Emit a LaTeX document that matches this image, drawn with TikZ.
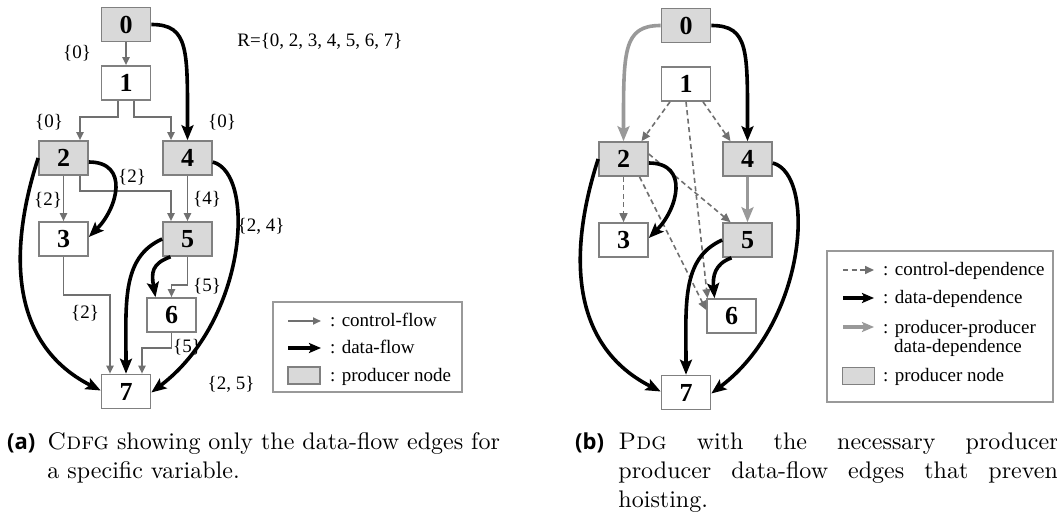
\documentclass[tikz,border=0pt]{standalone}
\usepackage{fontspec}
\newfontfamily\timesfont{Liberation Serif}
\newfontfamily\sublabelfont{Open Sans}
\usetikzlibrary{arrows.meta}
\definecolor{cgray}{HTML}{707070}
\definecolor{boxgray}{HTML}{808080}
\definecolor{prodfill}{HTML}{D9D9D9}
\definecolor{ppgray}{HTML}{999999}
\definecolor{dgray}{HTML}{707070}
\definecolor{framegray}{HTML}{999999}
\newcommand\numfont{\timesfont\bfseries\fontsize{26}{26}\selectfont}
\newcommand\lblfont{\timesfont\fontsize{19}{21}\selectfont}
\newcommand\capfont{\fontsize{10}{12}\selectfont}
\begin{document}
\begin{tikzpicture}[x=1pt,y=1pt,
  box/.style={draw=boxgray, line width=1.6pt, minimum width=49pt, minimum height=34pt, inner sep=0pt, font=\numfont},
  prod/.style={box, fill=prodfill},
  plain/.style={box, fill=white},
  cflow/.style={draw=cgray, line width=1.8pt, -{Triangle[length=8pt,width=7pt]}},
  dflow/.style={draw=black, line width=3.6pt, -{Stealth[length=15pt,width=12pt,inset=3pt]}},
  ppflow/.style={draw=ppgray, line width=3.6pt, -{Stealth[length=15pt,width=12pt,inset=3pt]}},
  cdep/.style={draw=dgray, line width=1.6pt, dash pattern=on 5pt off 3.5pt, -{Triangle[length=9pt,width=8pt]}},
  lbl/.style={font=\lblfont, inner sep=0pt},
  legframe/.style={draw=framegray, line width=1.2pt, inner sep=0pt},
  legtext/.style={font=\lblfont, inner sep=0pt, anchor=base west},
  legprod/.style={draw=boxgray, fill=prodfill, line width=1.6pt, minimum width=32pt, minimum height=17pt, inner sep=0pt},
  captext/.style={font=\capfont, scale=2.4, inner sep=0pt, anchor=base west},
  caplabel/.style={font=\sublabelfont\bfseries\fontsize{22}{24}\selectfont, inner sep=0pt, anchor=base west},
]
\useasboundingbox (0,0) rectangle (1057,-516);

% ---------------- (a) control/data-flow graph ----------------
\node[prod]  (a0) at (126,-24.5) {0};
\node[plain] (a1) at (126,-83)   {1};
\node[prod]  (a2) at (63.5,-158) {2};
\node[prod]  (a4) at (187.5,-158) {4};
\node[plain] (a3) at (63.5,-239) {3};
\node[prod]  (a5) at (187.5,-239) {5};
\node[plain] (a6) at (171.5,-315) {6};
\node[plain] (a7) at (126,-391.5) {7};

% control-flow edges
\draw[cflow] (a0.south) -- (a1.north);
\draw[cflow] ([xshift=-8pt]a1.south) -- ++(0,-16) -| ([xshift=16.5pt]a2.north);
\draw[cflow] ([xshift=8pt]a1.south) -- ++(0,-16) -| ([xshift=-16.5pt]a4.north);
\draw[cflow] (a2.south) -- (a3.north);
\draw[cflow] ([xshift=16.5pt]a2.south) -- ++(0,-15) -| ([xshift=-16.5pt]a5.north);
\draw[cflow] (a4.south) -- (a5.north);
\draw[cflow] (a3.south) -- ++(0,-38) -| ([xshift=-16pt]a7.north);
\draw[cflow] (a5.south) -- ++(0,-28) -| (a6.north);
\draw[cflow] (a6.south) -- ++(0,-15) -| ([xshift=16pt]a7.north);

% data-flow edges
\draw[dflow] (a0.east) .. controls +(0:38) and +(90:90) .. (a4.north);
\draw[dflow] ([yshift=-4pt]a2.east) to[out=0,in=45,looseness=1.4] ([yshift=2pt]a3.east);
\draw[dflow] (a2.west) .. controls +(252:83) and +(153:110) .. ([yshift=1pt]a7.west);
\draw[dflow] ([yshift=-4pt]a4.east) .. controls +(-15:45) and +(37:120) .. ([yshift=-1pt]a7.east);
\draw[dflow] (a5.west) .. controls +(204:45) and +(90:70) .. (a7.north);
\draw[dflow] ([xshift=-17pt]a5.south) .. controls +(200:20) and +(100:25) .. ([xshift=-16pt]a6.north);

% variable sets
\node[lbl] (la0)  at (77,-53)   {\{0\}};
\node[lbl] (la1)  at (49,-122)  {\{0\}};
\node[lbl] (la2)  at (222,-122) {\{0\}};
\node[lbl] (la3)  at (48,-200)  {\{2\}};
\node[lbl] (la4)  at (132,-177) {\{2\}};
\node[lbl] (la5)  at (207,-199) {\{4\}};
\node[lbl] (la6)  at (261,-226) {\{2, 4\}};
\node[lbl] (la7)  at (207,-286) {\{5\}};
\node[lbl] (la8)  at (85,-313)  {\{2\}};
\node[lbl] (la9)  at (187,-347) {\{5\}};
\node[lbl] (la10) at (231,-384) {\{2, 5\}};
\node[lbl, anchor=base] (rset) at (320,-47) {R=\{0, 2, 3, 4, 5, 6, 7\}};

% legend (a)
\node[legframe, minimum width=189pt, minimum height=90pt] (lega) at (367.5,-347) {};
\coordinate (lga1) at (288,-321); \coordinate (lgb1) at (321,-321);
\coordinate (lga2) at (288,-348); \coordinate (lgb2) at (321,-348);
\draw[cflow] (lga1) -- (lgb1);
\draw[dflow, -{Stealth[length=12pt,width=10pt,inset=2.5pt]}] (lga2) -- (lgb2);
\node[legprod] (lgp) at (304,-375.5) {};
\node[legtext] (lta1) at (330,-326) {: control-flow};
\node[legtext] (lta2) at (330,-353) {: data-flow};
\node[legtext] (lta3) at (330,-381) {: producer node};

% ---------------- (b) program dependence graph ----------------
\begin{scope}[shift={(560,-1)}]
\node[prod]  (b0) at (126,-24.5) {0};
\node[plain] (b1) at (126,-83)   {1};
\node[prod]  (b2) at (63.5,-158) {2};
\node[prod]  (b4) at (187.5,-158) {4};
\node[plain] (b3) at (63.5,-239) {3};
\node[prod]  (b5) at (187.5,-239) {5};
\node[plain] (b6) at (171.5,-315) {6};
\node[plain] (b7) at (126,-391.5) {7};
\end{scope}

% control dependences
\draw[cdep] ([xshift=-16pt]b1.south) -- ([xshift=18pt]b2.north);
\draw[cdep] ([xshift=17pt]b1.south) -- ([xshift=-17pt]b4.north);
\draw[cdep] (b1.south) -- ([xshift=-24pt]b6.north);
\draw[cdep] (b2.south) -- (b3.north);
\draw[cdep] ([yshift=5pt]b2.east) -- ([xshift=-17pt]b5.north);
\draw[cdep] ([xshift=16pt]b2.south) -- ([yshift=6pt]b6.west);

% producer-producer data dependences
\draw[ppflow] (b0.west) .. controls +(180:38) and +(90:90) .. (b2.north);
\draw[ppflow] (b4.south) -- (b5.north);

% data dependences
\draw[dflow] (b0.east) .. controls +(0:38) and +(90:90) .. (b4.north);
\draw[dflow] ([yshift=-4pt]b2.east) to[out=0,in=45,looseness=1.4] ([yshift=2pt]b3.east);
\draw[dflow] (b2.west) .. controls +(252:83) and +(153:110) .. ([yshift=1pt]b7.west);
\draw[dflow] ([yshift=-4pt]b4.east) .. controls +(-15:45) and +(37:120) .. ([yshift=-1pt]b7.east);
\draw[dflow] (b5.west) .. controls +(204:45) and +(90:70) .. (b7.north);
\draw[dflow] ([xshift=-16pt]b5.south) .. controls +(200:18) and +(95:22) .. ([xshift=-17pt]b6.north);

% legend (b)
\node[legframe, minimum width=226pt, minimum height=151pt] (legb) at (940,-326.5) {};
\coordinate (lgc1) at (843,-270); \coordinate (lgd1) at (874,-270);
\coordinate (lgc2) at (843,-298); \coordinate (lgd2) at (874,-298);
\coordinate (lgc3) at (843,-327); \coordinate (lgd3) at (874,-327);
\draw[cdep] (lgc1) -- (lgd1);
\draw[dflow, -{Stealth[length=12pt,width=10pt,inset=2.5pt]}] (lgc2) -- (lgd2);
\draw[ppflow, -{Stealth[length=12pt,width=10pt,inset=2.5pt]}] (lgc3) -- (lgd3);
\node[legprod] (lgq) at (858.5,-376) {};
\node[legtext] (ltb1) at (883,-275) {: control-dependence};
\node[legtext] (ltb2) at (883,-303) {: data-dependence};
\node[legtext] (ltb3) at (883,-333) {: producer-producer};
\node[legtext] (ltb4) at (894,-352) {data-dependence};
\node[legtext] (ltb5) at (883,-381) {: producer node};

% captions
\node[caplabel] (capal) at (7,-449) {(a)};
\node[captext] (capa1) at (47,-449) {\textsc{Cdfg} showing only the data-flow edges for};
\node[captext] (capa2) at (47,-478) {a specific variable.};
\node[caplabel] (capbl) at (575,-449) {(b)};
\node[captext] (capb1) at (618,-449) {\makebox[186.7pt][s]{\textsc{Pdg} with the necessary producer-}};
\node[captext] (capb2) at (618,-478) {\makebox[186.7pt][s]{producer data-flow edges that prevent}};
\node[captext] (capb3) at (618,-507) {hoisting.};
\end{tikzpicture}
\end{document}
